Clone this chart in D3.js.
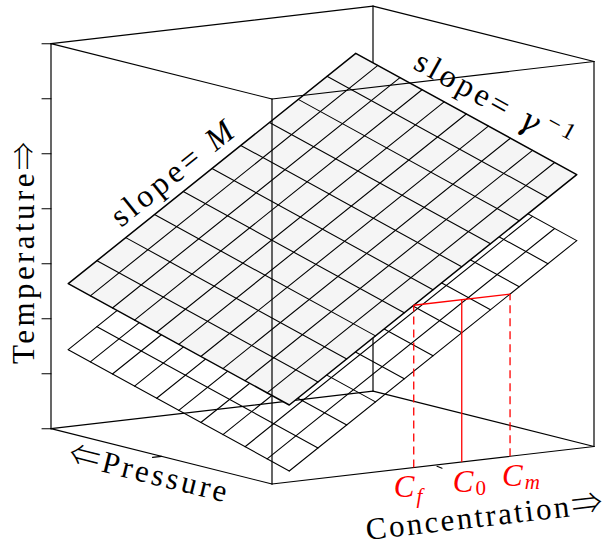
<!DOCTYPE html>
<html>
<head>
<meta charset="utf-8">
<script src="https://cdn.jsdelivr.net/npm/d3@7/dist/d3.min.js"></script>
<style>
  body { margin: 0; background: #fff; }
  text { font-family: "Liberation Serif", "DejaVu Serif", serif; }
  .arrow { font-family: "Noto Sans CJK JP", "DejaVu Sans", sans-serif; font-weight: 300; }
  .greek { font-family: "DejaVu Serif", serif; }
</style>
</head>
<body>
<div id="chart"></div>
<script>
// mesh lines of both planes (pressure, concentration)
const pressureGrid = [0, 1, 2, 3, 4, 5, 6, 7, 8, 9, 10];
const concGrid = [0, 1, 2, 3, 4, 5, 6, 7, 8, 9, 10];
// plane temperature at corners: [P0 C0, P10 C0, P0 C10, P10 C10]
const upperCorners = [1.4, 2.6, 4.98, 6.18];
const lowerCorners = [0.2, 1.4, 3.78, 4.98];
// axis ticks
const tempTicks = [0, 1, 2, 3, 4, 5, 6, 7];
const pressureTicks = [5];
const concTicks = [5];
// red construction lines
const markerNames = ['f', '0', 'm'];
const markerConc = [4.33, 6.0, 7.68];
const markerTemp = 2.95;

const width = 611, height = 547;
const origin = [272, 484]; // front bottom corner of the box

// projection of the 3d box onto the page
const pX = d3.scaleLinear().domain([0, 10]).range([0, -221]);
const pY = d3.scaleLinear().domain([0, 10]).range([0, -55.3]);
const cX = d3.scaleLinear().domain([-0.6, 10.6]).range([0, 322]);
const cY = d3.scaleLinear().domain([-0.6, 10.6]).range([0, -37.5]);
const zY = d3.scaleLinear().domain([0, 7]).range([0, -385]);
const proj = (p, c, z) => [origin[0] + pX(p) + cX(c), origin[1] + pY(p) + cY(c) + zY(z)];

function planeZ(k, p, c) {
    const u = p / 10, v = c / 10;
    return k[0] * (1 - u) * (1 - v) + k[1] * u * (1 - v) + k[2] * (1 - u) * v + k[3] * u * v;
}

const svg = d3.select('#chart').append('svg')
    .attr('width', width)
    .attr('height', height);

const line = d3.line();
const P0 = pX.domain()[0], P1 = pX.domain()[1];
const C0 = cX.domain()[0], C1 = cX.domain()[1];
const Z0 = zY.domain()[0], Z1 = zY.domain()[1];

function seg(g, a, b, w) {
    return g.append('path').attr('d', line([a, b]))
        .attr('fill', 'none').attr('stroke', '#000').attr('stroke-width', w || 1.2)
        .attr('stroke-linecap', 'round');
}

// back edges of the box (behind the planes)
const back = svg.append('g');
seg(back, proj(P1, C1, Z0), proj(P1, C1, Z1));
seg(back, proj(P1, C0, Z0), proj(P1, C1, Z0));
seg(back, proj(P1, C1, Z0), proj(P0, C1, Z0));
seg(back, proj(P1, C0, Z1), proj(P1, C1, Z1));
seg(back, proj(P1, C1, Z1), proj(P0, C1, Z1));

// lower plane: mesh only
const lower = svg.append('g');
pressureGrid.forEach(p => {
    seg(lower, proj(p, 0, planeZ(lowerCorners, p, 0)), proj(p, 10, planeZ(lowerCorners, p, 10)), 1.1);
});
concGrid.forEach(c => {
    seg(lower, proj(0, c, planeZ(lowerCorners, 0, c)), proj(10, c, planeZ(lowerCorners, 10, c)), 1.1);
});

// upper plane: filled with mesh
const upper = svg.append('g');
const outline = [[0, 0], [10, 0], [10, 10], [0, 10]].map(d => proj(d[0], d[1], planeZ(upperCorners, d[0], d[1])));
upper.append('path')
    .attr('d', line(outline) + 'Z')
    .attr('fill', '#f5f5f5')
    .attr('stroke', '#000')
    .attr('stroke-width', 1.5)
    .attr('stroke-linejoin', 'round');
pressureGrid.slice(1, -1).forEach(p => {
    seg(upper, proj(p, 0, planeZ(upperCorners, p, 0)), proj(p, 10, planeZ(upperCorners, p, 10)), 1.1);
});
concGrid.slice(1, -1).forEach(c => {
    seg(upper, proj(0, c, planeZ(upperCorners, 0, c)), proj(10, c, planeZ(upperCorners, 10, c)), 1.1);
});

// front edges of the box
const front = svg.append('g');
seg(front, proj(P0, C0, Z0), proj(P0, C0, Z1));
seg(front, proj(P1, C0, Z0), proj(P1, C0, Z1));
seg(front, proj(P0, C1, Z0), proj(P0, C1, Z1));
seg(front, proj(P1, C0, Z1), proj(P0, C0, Z1));
seg(front, proj(P0, C0, Z1), proj(P0, C1, Z1));
seg(front, proj(P1, C0, Z0), proj(P0, C0, Z0));
seg(front, proj(P0, C0, Z0), proj(P0, C1, Z0));

// temperature ticks on the left edge
tempTicks.forEach(t => {
    const a = proj(P1, C0, t);
    seg(front, a, [a[0] - 9, a[1]], 1.1);
});
// pressure / concentration ticks
pressureTicks.forEach(p => {
    const a = proj(p, C0, Z0);
    seg(front, a, [a[0] - 9, a[1] + 1], 1.1);
});
concTicks.forEach(c => {
    const a = proj(P0, c, Z0);
    seg(front, [a[0] + 4, a[1] + 1], [a[0] + 9, a[1] + 3], 1.1);
});

// red construction lines
const red = svg.append('g');
red.append('path')
    .attr('d', line([proj(0, markerConc[0], markerTemp), proj(0, markerConc[2], markerTemp)]))
    .attr('fill', 'none').attr('stroke', '#ff0000').attr('stroke-width', 1.3);
markerConc.forEach((c, i) => {
    red.append('path')
        .attr('d', line([proj(0, c, Z0), proj(0, c, markerTemp)]))
        .attr('fill', 'none').attr('stroke', '#ff0000').attr('stroke-width', 1.3)
        .attr('stroke-dasharray', i === 1 ? null : '8,5');
});
const labelDx = [-20, -9, -8];
markerConc.forEach((c, i) => {
    const a = proj(P0, c, Z0);
    const t = red.append('text')
        .attr('x', a[0] + labelDx[i])
        .attr('y', a[1] + 30)
        .attr('fill', '#ff0000')
        .attr('font-size', 31)
        .attr('font-style', 'italic')
        .text('C');
    t.append('tspan')
        .attr('dy', markerNames[i] === 'f' ? 6 : 3)
        .attr('dx', 2)
        .attr('font-size', 21)
        .attr('font-style', markerNames[i] === '0' ? 'normal' : 'italic')
        .text(markerNames[i]);
});

// axis labels
const labels = svg.append('g').attr('fill', '#000');
const tT = labels.append('text')
    .attr('transform', 'translate(34,364) rotate(-90)')
    .attr('font-size', 31)
    .attr('textLength', 222)
    .attr('lengthAdjust', 'spacing');
tT.append('tspan').text('Temperature');
tT.append('tspan').attr('class', 'arrow').attr('font-size', 28).text('\u21D2');

const tP = labels.append('text')
    .attr('transform', 'translate(67,463) rotate(14)')
    .attr('font-size', 31)
    .attr('textLength', 162)
    .attr('lengthAdjust', 'spacing');
tP.append('tspan').attr('class', 'arrow').text('\u21D0');
tP.append('tspan').text('Pressure');

const tC = labels.append('text')
    .attr('transform', 'translate(367,540) rotate(-6.6)')
    .attr('font-size', 31)
    .attr('textLength', 238)
    .attr('lengthAdjust', 'spacing');
tC.append('tspan').text('Concentration');
tC.append('tspan').attr('class', 'arrow').text('\u21D2');

// slope labels along the upper plane edges
const sM = labels.append('text')
    .attr('transform', 'translate(121,228) rotate(-38.8)')
    .attr('font-size', 32)
    .attr('textLength', 148)
    .attr('lengthAdjust', 'spacing');
sM.append('tspan').text('slope= ');
sM.append('tspan').attr('font-style', 'italic').text('M');

const sG = labels.append('text')
    .attr('transform', 'translate(412,68) rotate(28.9)')
    .attr('font-size', 32)
    .attr('textLength', 174)
    .attr('lengthAdjust', 'spacing');
sG.append('tspan').text('slope= ');
sG.append('tspan').attr('class', 'greek').attr('font-style', 'italic').text('\u03B3');
sG.append('tspan').attr('dy', -13).attr('dx', 3).attr('font-size', 24).text('\u22121');
</script>
</body>
</html>
